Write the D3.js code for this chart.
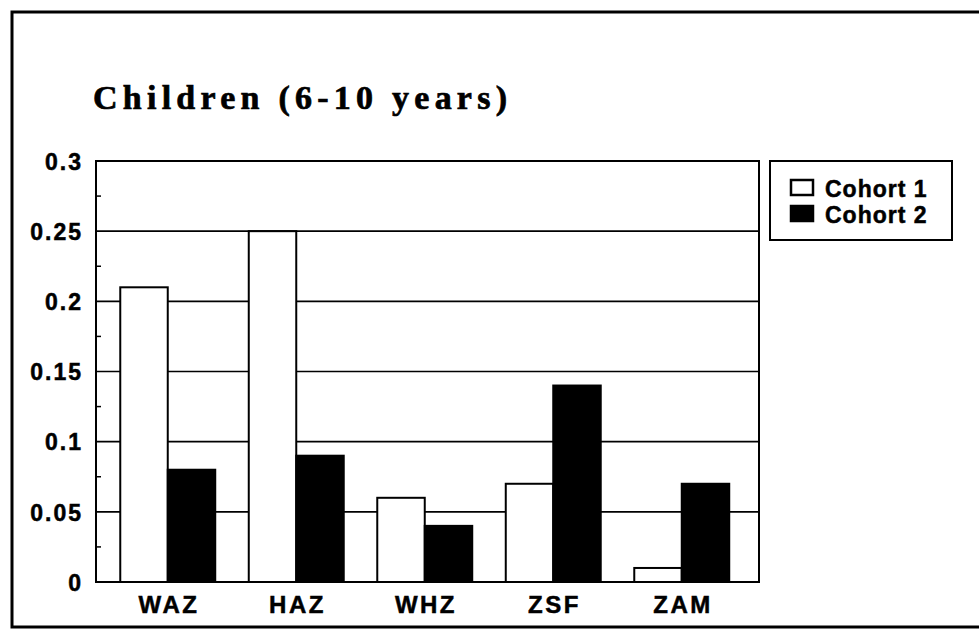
<!DOCTYPE html>
<html>
<head>
<meta charset="utf-8">
<script src="https://cdn.jsdelivr.net/npm/d3@7"></script>
<style>
html,body{margin:0;padding:0;background:#fff;}
svg{display:block;}
</style>
</head>
<body>
<svg id="chart" width="979" height="630"></svg>
<script>
const categories = ["WAZ", "HAZ", "WHZ", "ZSF", "ZAM"];
const seriesNames = ["Cohort 1", "Cohort 2"];
const cohort1 = [0.21, 0.25, 0.06, 0.07, 0.01];
const cohort2 = [0.08, 0.09, 0.04, 0.14, 0.07];
const yTicks = [0, 0.05, 0.1, 0.15, 0.2, 0.25, 0.3];
const yTickLabels = ["0", "0.05", "0.1", "0.15", "0.2", "0.25", "0.3"];
const minorTicks = [0.025, 0.075, 0.125, 0.175, 0.225, 0.275];
const seriesFill = ["#ffffff", "#000000"];
const title = "Children (6-10 years)";

const svg = d3.select("#chart");
const plot = {left: 96, right: 759, top: 161, bottom: 582};
const sans = "'Liberation Sans',Arial,sans-serif";

// outer frame (right edge runs past the window)
svg.append("rect").attr("x", 12).attr("y", 12).attr("width", 1000).attr("height", 615)
  .attr("fill", "none").attr("stroke", "#000").attr("stroke-width", 3);

// title
svg.append("text").attr("x", 93).attr("y", 109)
  .attr("font-family", "'Liberation Serif','Times New Roman',serif")
  .attr("font-weight", "bold").attr("font-size", 34)
  .attr("stroke", "#000").attr("stroke-width", 0.7)
  .attr("textLength", 414).attr("lengthAdjust", "spacing")
  .attr("fill", "#000").text(title);

const y = d3.scaleLinear().domain([0, 0.3]).range([plot.bottom, plot.top]);
const x0 = d3.scaleBand().domain(categories).range([103.5, 746]).paddingInner(0).paddingOuter(0);
const x1 = d3.scaleBand().domain(seriesNames).range([0, x0.bandwidth()]).paddingInner(0).paddingOuter(0.353);

// gridlines
svg.append("g").selectAll("line").data(yTicks.filter(d => d > 0 && d < 0.3)).join("line")
  .attr("x1", plot.left).attr("x2", plot.right)
  .attr("y1", d => y(d)).attr("y2", d => y(d))
  .attr("stroke", "#000").attr("stroke-width", 1.6);

// bars
const rows = categories.map((c, i) => ({cat: c, vals: [cohort1[i], cohort2[i]]}));
const g = svg.append("g").selectAll("g").data(rows).join("g")
  .attr("transform", d => `translate(${x0(d.cat)},0)`);
g.selectAll("rect").data(d => d.vals.map((v, j) => ({s: seriesNames[j], v, j}))).join("rect")
  .attr("x", d => x1(d.s)).attr("width", x1.bandwidth())
  .attr("y", d => y(d.v)).attr("height", d => y(0) - y(d.v))
  .attr("fill", d => seriesFill[d.j]).attr("stroke", "#000").attr("stroke-width", 2);

// plot frame
svg.append("rect").attr("x", plot.left).attr("y", plot.top)
  .attr("width", plot.right - plot.left).attr("height", plot.bottom - plot.top)
  .attr("fill", "none").attr("stroke", "#000").attr("stroke-width", 2);

// minor ticks inside left axis
svg.append("g").selectAll("line").data(minorTicks).join("line")
  .attr("x1", plot.left).attr("x2", plot.left + 5)
  .attr("y1", d => y(d)).attr("y2", d => y(d))
  .attr("stroke", "#000").attr("stroke-width", 1.5);

// y axis labels
const yAxis = d3.axisLeft(y).tickValues(yTicks).tickSize(0).tickPadding(0)
  .tickFormat((d, i) => yTickLabels[i]);
const ya = svg.append("g").attr("transform", `translate(83,0)`).call(yAxis);
ya.select(".domain").remove();
ya.selectAll("text").attr("font-family", sans)
  .attr("font-weight", "bold").attr("font-size", 23).attr("fill", "#000")
  .attr("stroke", "#000").attr("stroke-width", 0.5)
  .attr("letter-spacing", 2).attr("dy", "0.36em").attr("x", 0);

// x axis labels
const xAxis = d3.axisBottom(x0).tickSize(0).tickPadding(0);
const xa = svg.append("g").attr("transform", `translate(0,${plot.bottom})`).call(xAxis);
xa.select(".domain").remove();
xa.selectAll("text").attr("font-family", sans)
  .attr("font-weight", "bold").attr("font-size", 24).attr("fill", "#000")
  .attr("stroke", "#000").attr("stroke-width", 0.5)
  .attr("letter-spacing", 2.5).attr("y", 31).attr("dy", 0).attr("x", 1.2);

// legend
const lg = svg.append("g");
lg.append("rect").attr("x", 770).attr("y", 161).attr("width", 182).attr("height", 79)
  .attr("fill", "#fff").attr("stroke", "#000").attr("stroke-width", 2);
const li = lg.selectAll("g.item").data(seriesNames).join("g").attr("class", "item")
  .attr("transform", (d, i) => `translate(0,${i * 26})`);
li.append("rect").attr("x", 791).attr("y", 180).attr("width", 22).attr("height", 15)
  .attr("fill", (d, i) => seriesFill[i]).attr("stroke", "#000").attr("stroke-width", 2.5);
li.append("text").attr("x", 825).attr("y", 197)
  .attr("font-family", sans)
  .attr("font-weight", "bold").attr("font-size", 23).attr("letter-spacing", 1)
  .attr("stroke", "#000").attr("stroke-width", 0.5)
  .attr("fill", "#000").text(d => d);
</script>
</body>
</html>
